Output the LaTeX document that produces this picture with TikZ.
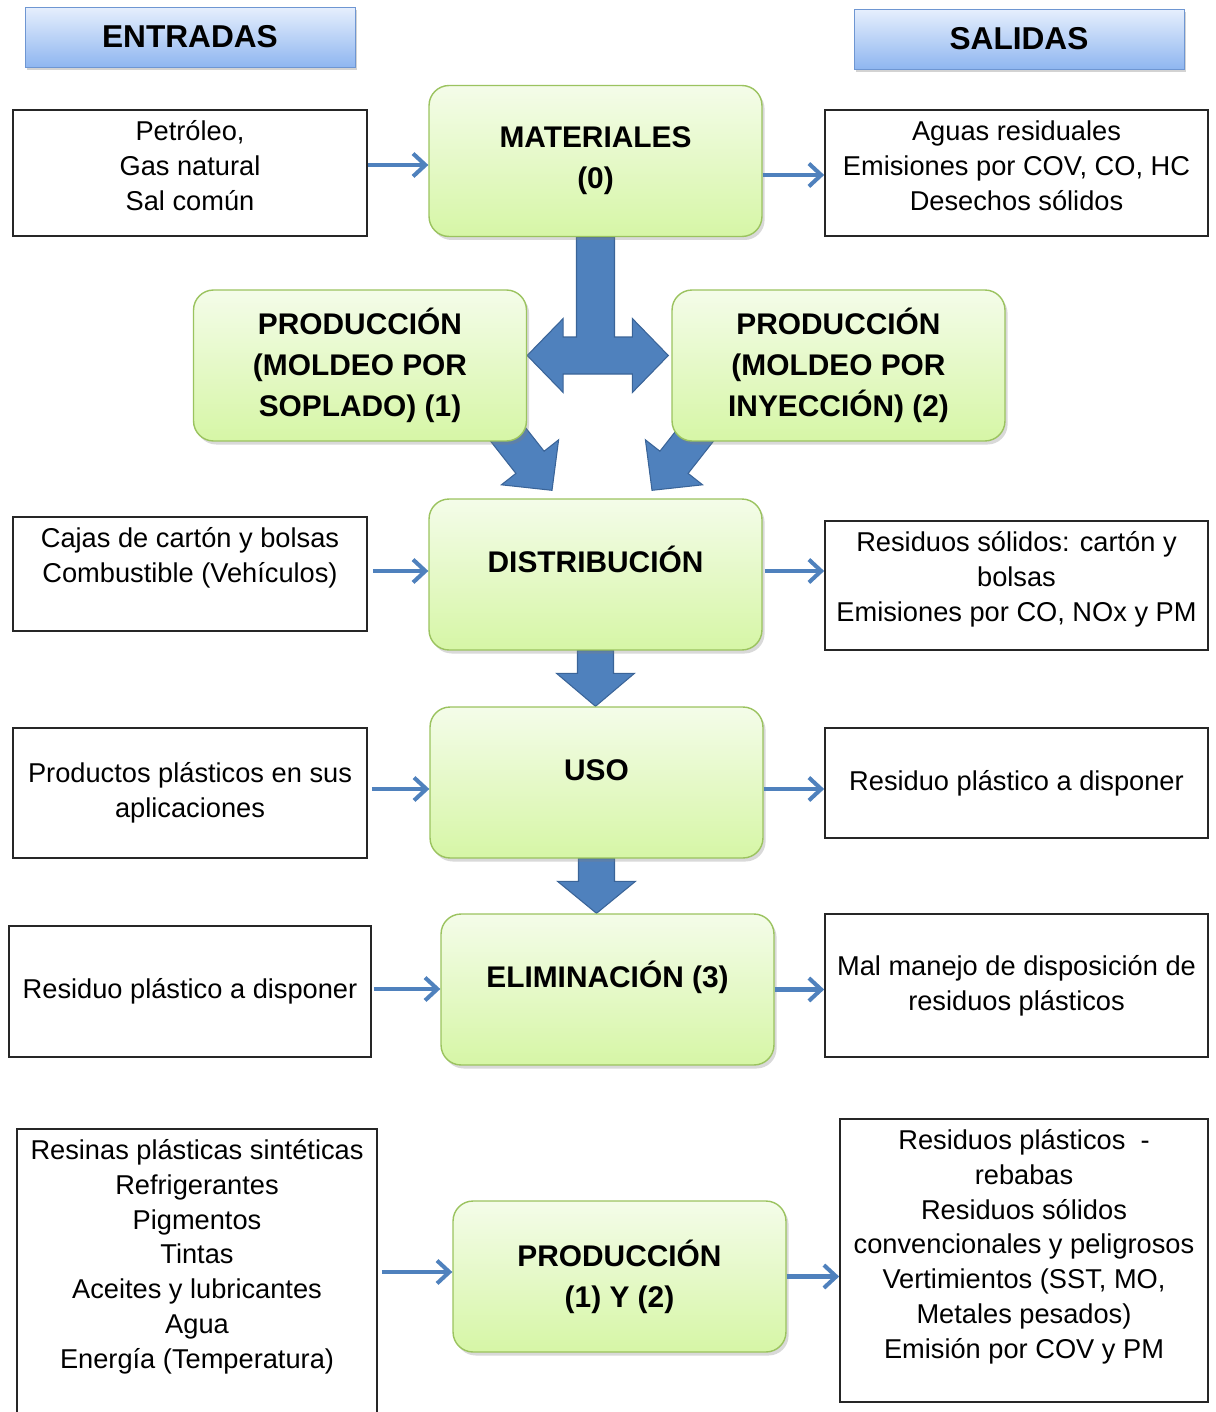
\documentclass[tikz,border=0pt]{standalone}
\usepackage{fontspec}
\setmainfont{Liberation Sans}
\usetikzlibrary{arrows.meta, positioning, calc, shadows, backgrounds}
\definecolor{cFlow}{RGB}{79,129,189}
\definecolor{cFlowLine}{RGB}{58,100,152}
\definecolor{cStageTop}{RGB}{244,252,233}
\definecolor{cStageBot}{RGB}{214,246,166}
\definecolor{cStageLine}{RGB}{155,195,95}
\definecolor{cHeadTop}{RGB}{230,239,253}
\definecolor{cHeadBot}{RGB}{143,182,240}
\definecolor{cHeadLine}{RGB}{110,150,210}
\tikzset{
	header/.style ={rectangle, draw=cHeadLine, top color=cHeadTop, bottom color=cHeadBot, minimum width=6.6cm, minimum height=1.2cm, font=\fontsize{18}{22}\selectfont\bfseries, drop shadow={shadow xshift=1pt, shadow yshift=-1.5pt, opacity=0.35}},
	stage/.style  ={rectangle, rounded corners=0.4cm, draw=cStageLine, line width=0.8pt, top color=cStageTop, bottom color=cStageBot, minimum width=6.66cm, minimum height=3.02cm, align=center, font=\fontsize{17}{23.2}\selectfont\bfseries, drop shadow={shadow xshift=1.5pt, shadow yshift=-2pt, opacity=0.3}},
	upper/.style  ={text height=0.45cm, text depth=0.54cm},
	flowbox/.style={rectangle, draw=black!85, line width=1pt, align=center, font=\fontsize{15.5}{19.8}\selectfont},
	inbox/.style  ={flowbox, minimum width=7.08cm},
	outbox/.style ={flowbox, minimum width=7.66cm},
	toptext/.style 2 args={align=none, inner sep=0pt, execute at begin node={\begin{minipage}[c][#1][t]{#2}\centering\vspace*{3.5pt}\strut}, execute at end node={\end{minipage}}},
	% thin feed arrows and block arrows
	feed/.style   ={-{Straight Barb[length=7pt, width=13pt]}, draw=cFlow, line width=2.3pt},
	bigarrow/.style={fill=cFlow, draw=cFlowLine, line width=0.6pt, line join=miter},
}
\begin{document}
\begin{tikzpicture}[x=0.02cm, y=-0.02cm]
	\useasboundingbox (0,0) rectangle (1215,1412);
	% headers
	\node[header] (entr) at (190,37) {ENTRADAS};
	\node[header] (sal) at (1019,39) {SALIDAS};
	% life cycle stages
	\node[stage] (mat) at (595.5,161) {MATERIALES\\(0)};
	\node[stage] (sop) at (360,365.5) {PRODUCCIÓN\\(MOLDEO POR\\SOPLADO) (1)};
	\node[stage] (iny) at (838.5,365.5) {PRODUCCIÓN\\(MOLDEO POR\\INYECCIÓN) (2)};
	\node[stage, upper] (dist) at (595.5,574.5) {DISTRIBUCIÓN};
	\node[stage, upper] (uso) at (596.5,782.5) {USO};
	\node[stage, upper] (elim) at (607.5,989.5) {ELIMINACIÓN (3)};
	\node[stage] (prod) at (619.5,1276.5) {PRODUCCIÓN\\(1) Y (2)};
	% inputs
	\node[inbox, minimum height=2.52cm, toptext={2.52cm}{7cm}] (in1) at (190,173) {Petróleo,\\Gas natural\\Sal común};
	\node[inbox, minimum height=2.28cm, toptext={2.28cm}{7cm}] (in2) at (190,574) {Cajas de cartón y bolsas\\Combustible (Vehículos)};
	\node[inbox, minimum height=2.6cm] (in3) at (190,793) {Productos plásticos en sus\\aplicaciones};
	\node[inbox, minimum width=7.24cm, minimum height=2.62cm] (in4) at (190,991.5) {Residuo plástico a disponer};
	\node[inbox, minimum width=7.2cm, minimum height=6cm, toptext={6cm}{7cm}] (in5) at (197,1279) {Resinas plásticas sintéticas\\Refrigerantes\\Pigmentos\\Tintas\\Aceites y lubricantes\\Agua\\Energía (Temperatura)};
	% outputs
	\node[outbox, minimum height=2.52cm, toptext={2.52cm}{7.5cm}] (out1) at (1016.5,173) {Aguas residuales\\Emisiones por COV, CO, HC\\Desechos sólidos};
	\node[outbox, minimum height=2.58cm, toptext={2.58cm}{7.5cm}] (out2) at (1016.5,585.5) {Residuos sólidos: cartón y\\bolsas\\Emisiones por CO, NOx y PM};
	\node[outbox, minimum height=2.2cm] (out3) at (1016.5,783) {Residuo plástico a disponer};
	\node[outbox, minimum height=2.86cm] (out4) at (1016.5,985.5) {Mal manejo de disposición de\\residuos plásticos};
	\node[outbox, minimum width=7.36cm, minimum height=5.66cm, toptext={5.66cm}{7.2cm}] (out5) at (1024,1260.5) {Residuos plásticos~~-\\rebabas\\Residuos sólidos\\convencionales y peligrosos\\Vertimientos (SST, MO,\\Metales pesados)\\Emisión por COV y PM};
	% feed arrows
	\draw[feed] ($(in1.east)+(0,-8)$) -- ($(in1.east -| mat.west)+(0,-8)$);
	\draw[feed] ($(mat.east)+(0,14)$) -- ($(mat.east -| out1.west)+(0,14)$);
	\draw[feed] ($(in2.east)+(5,-3)$) -- ($(in2.east -| dist.west)+(0,-3)$);
	\draw[feed] ($(dist.east)+(2,-3.5)$) -- ($(dist.east -| out2.west)+(0,-3.5)$);
	\draw[feed] ($(in3.east)+(4,-4)$) -- ($(in3.east -| uso.west)+(0,-4)$);
	\draw[feed] ($(uso.east)+(0,6.5)$) -- ($(uso.east -| out3.west)+(0,6.5)$);
	\draw[feed] ($(in4.east)+(2,-2.5)$) -- ($(in4.east -| elim.west)+(0,-2.5)$);
	\draw[feed] (elim.east) -- (elim.east -| out4.west);
	\draw[feed] ($(prod.west -| in5.east)+(4,-4.5)$) -- ($(prod.west)+(0,-4.5)$);
	\draw[feed] (prod.east) -- (prod.east -| out5.west);
	% block arrows behind the stages
	\begin{scope}[on background layer]
		\coordinate (tl) at ($(sop.east)+(0,-10)$);
		\coordinate (tr) at ($(iny.west)+(-3,-10)$);
		\coordinate (dl) at ($(dist.north)+(-43.5,-8)$);
		\coordinate (dr) at ($(dist.north)+(56.5,-8)$);
		\path[bigarrow] ($(mat.south)+(-19,0)$) |- ($(tl)+(36,-18.5)$) -- ($(tl)+(36,-37)$) -- (tl) -- ($(tl)+(36,37)$) -- ($(tl)+(36,18.5)$)
			-- ($(tr)+(-36,18.5)$) -- ($(tr)+(-36,37)$) -- (tr) -- ($(tr)+(-36,-37)$) -- ($(tr)+(-36,-18.5)$) -| ($(mat.south)+(19,0)$) -- cycle;
		\path[bigarrow, shift={(dl)}] (-82.1,-75.4) -- (-36.1,-16.9) -- (-50.6,-5.5) -- (0,0) -- (6.6,-50.5) -- (-7.9,-39.1) -- (-53.9,-97.6) -- cycle;
		\path[bigarrow, shift={(dr)}] (82.1,-75.4) -- (36.1,-16.9) -- (50.6,-5.5) -- (0,0) -- (-6.6,-50.5) -- (7.9,-39.1) -- (53.9,-97.6) -- cycle;
		\path[bigarrow] ($(dist.south)+(-18,0)$) -- ($(dist.south |- uso.north)+(-18,-33)$) -- ($(dist.south |- uso.north)+(-39,-33)$) -- (dist.south |- uso.north)
			-- ($(dist.south |- uso.north)+(39,-33)$) -- ($(dist.south |- uso.north)+(18,-33)$) -- ($(dist.south)+(18,0)$) -- cycle;
		\path[bigarrow] ($(uso.south)+(-18,0)$) -- ($(uso.south |- elim.north)+(-18,-32)$) -- ($(uso.south |- elim.north)+(-39,-32)$) -- (uso.south |- elim.north)
			-- ($(uso.south |- elim.north)+(39,-32)$) -- ($(uso.south |- elim.north)+(18,-32)$) -- ($(uso.south)+(18,0)$) -- cycle;
	\end{scope}
\end{tikzpicture}
\end{document}
